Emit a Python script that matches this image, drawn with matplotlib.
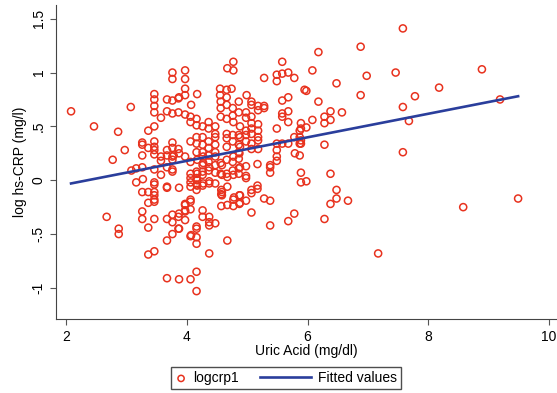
import matplotlib
matplotlib.use("Agg")
import matplotlib.pyplot as plt
from matplotlib.legend_handler import HandlerLine2D, HandlerPathCollection
import numpy as np

plt.rcParams['font.family'] = ['Liberation Sans', 'DejaVu Sans']

# uric acid (mg/dl) and log hs-CRP (mg/l)
uric = [
    2.08, 2.46, 3.07, 2.86, 2.97, 2.77, 3.26, 3.26, 3.36, 3.46, 3.46, 3.46, 3.26, 3.57, 3.36, 3.46,
    3.46, 3.46, 3.46, 3.46, 3.57, 3.67, 3.67, 3.76, 3.76, 3.76, 3.76, 3.16, 3.26, 3.16, 3.46, 3.46,
    3.26, 3.36, 3.46, 3.46, 3.46, 3.46, 3.36, 3.67, 3.67, 3.76, 2.67, 3.26, 3.26, 3.46, 3.67, 3.76,
    2.87, 2.87, 3.36, 3.67, 3.76, 3.36, 3.46, 3.67, 3.87, 4.06, 4.06, 4.16, 4.16, 4.16, 4.26, 4.26,
    4.37, 4.37, 4.47, 4.57, 4.57, 4.67, 4.57, 4.67, 4.78, 4.87, 4.87, 3.86, 3.97, 3.97, 4.06, 4.06,
    4.06, 4.26, 4.26, 4.37, 4.37, 4.37, 4.47, 3.86, 4.16, 4.16, 4.06, 4.16, 4.16, 4.67, 4.37, 3.87,
    4.06, 4.16, 4.16, 3.97, 3.97, 3.97, 4.17, 4.07, 3.86, 3.97, 3.86, 3.97, 4.06, 4.06, 4.16, 4.16,
    4.26, 4.36, 4.36, 4.47, 4.47, 3.46, 3.67, 3.76, 3.76, 3.86, 3.67, 3.78, 3.57, 4.06, 4.16, 4.16,
    4.26, 4.26, 4.36, 4.36, 4.47, 4.47, 4.16, 4.26, 4.36, 4.36, 4.47, 4.47, 4.47, 4.26, 4.26, 4.36,
    4.16, 4.06, 4.06, 4.55, 4.55, 4.66, 4.74, 4.66, 4.56, 4.56, 4.66, 4.76, 4.76, 4.86, 4.86, 4.67,
    4.77, 4.77, 4.56, 4.66, 4.77, 4.66, 4.66, 4.76, 4.76, 4.86, 4.86, 4.66, 4.86, 4.86, 4.56, 4.66,
    4.76, 4.56, 4.66, 4.76, 4.86, 4.86, 3.08, 3.27, 3.87, 3.76, 3.76, 3.87, 3.97, 4.06, 4.17, 4.27,
    4.27, 4.37, 4.47, 4.58, 4.77, 4.87, 4.17, 4.17, 4.17, 4.27, 4.58, 4.67, 4.77, 4.58, 4.58, 4.77,
    4.77, 3.97, 3.97, 3.87, 3.76, 3.87, 3.97, 4.07, 3.46, 3.57, 3.67, 3.76,
    5.58, 5.49, 5.49, 5.58, 5.68, 5.78, 5.28, 4.99, 5.07, 5.07, 5.18, 5.18, 5.28, 5.28, 5.58, 5.68,
    5.58, 5.68, 5.58, 5.68, 5.95, 4.98, 4.98, 5.07, 5.07, 4.88, 4.98, 5.07, 5.18, 5.18, 4.88, 4.98,
    5.07, 5.18, 5.18, 4.98, 5.07, 4.88, 5.07, 5.18, 5.49, 5.49, 5.58, 5.68, 5.78, 5.87, 5.87, 5.87,
    5.79, 5.87, 5.49, 5.49, 4.88, 4.98, 5.17, 5.38, 5.38, 5.38, 5.49, 4.98, 4.98, 5.89, 5.89, 5.17,
    5.17, 5.07, 5.07, 4.88, 4.98, 4.88, 5.28, 5.38, 5.07, 5.38, 5.68, 5.78,
    6.18, 6.88, 6.08, 6.98, 7.46, 5.98, 6.48, 6.18, 6.88, 6.38, 6.57, 6.08, 6.28, 6.28, 6.38, 5.89,
    5.98, 5.89, 6.28, 5.89, 5.89, 5.98, 6.38, 6.48, 6.38, 6.48, 6.67, 6.28, 7.17,
    7.58, 8.89, 8.18, 7.78, 7.58, 9.19, 7.68, 7.58, 8.58, 9.49,
]
logcrp = [
    0.64, 0.50, 0.68, 0.45, 0.28, 0.19, 0.35, 0.33, 0.30, 0.36, 0.28, 0.24, 0.23, 0.22, 0.46, 0.50,
    0.80, 0.75, 0.69, 0.63, 0.58, 0.75, 0.64, 1.00, 0.94, 0.74, 0.62, 0.11, 0.12, -0.02, -0.02, -0.04,
    -0.11, -0.11, -0.11, -0.14, -0.18, -0.20, -0.21, -0.06, -0.07, 0.10, -0.34, -0.29, -0.36, -0.36, -0.36, -0.32,
    -0.45, -0.50, -0.44, -0.56, -0.50, -0.69, -0.66, -0.91, -0.07, -0.02, -0.06, 0.02, -0.04, -0.09, 0.05, -0.05,
    -0.01, -0.03, -0.03, -0.09, -0.13, -0.06, -0.24, -0.23, -0.16, -0.14, -0.22, -0.34, -0.23, -0.29, -0.18, -0.20,
    -0.27, -0.28, -0.34, -0.34, -0.39, -0.42, -0.40, -0.45, -0.43, -0.45, -0.52, -0.53, -0.59, -0.56, -0.68, -0.92,
    -0.92, -0.85, -1.03, 1.02, 0.94, 0.85, 0.80, 0.70, 0.76, 0.79, 0.63, 0.61, 0.59, 0.54, 0.57, 0.51,
    0.50, 0.54, 0.48, 0.50, 0.43, 0.31, 0.28, 0.35, 0.30, 0.29, 0.23, 0.23, 0.18, 0.36, 0.40, 0.34,
    0.40, 0.33, 0.36, 0.30, 0.40, 0.33, 0.26, 0.26, 0.23, 0.17, 0.26, 0.22, 0.14, 0.14, 0.08, 0.09,
    0.08, 0.06, 0.02, 0.85, 0.79, 0.84, 0.85, 0.77, 0.73, 0.67, 0.70, 0.67, 0.60, 0.63, 0.73, 1.04,
    1.02, 1.10, 0.59, 0.57, 0.54, 0.43, 0.39, 0.42, 0.36, 0.42, 0.33, 0.31, 0.26, 0.20, 0.16, 0.19,
    0.17, 0.06, 0.06, 0.09, 0.11, 0.06, 0.09, 0.01, 0.77, 0.22, 0.19, 0.25, 0.22, 0.17, 0.19, 0.22,
    0.16, 0.12, 0.07, 0.14, 0.22, 0.25, 0.06, 0.00, -0.05, -0.03, 0.05, 0.03, 0.05, -0.11, -0.14, -0.18,
    -0.24, -0.22, -0.28, -0.31, -0.39, -0.45, -0.37, -0.51, 0.10, 0.05, 0.12, 0.08,
    1.10, 0.98, 0.92, 0.99, 1.00, 0.95, 0.95, 0.79, 0.73, 0.70, 0.69, 0.65, 0.69, 0.67, 0.74, 0.77,
    0.62, 0.64, 0.59, 0.54, 0.84, 0.63, 0.58, 0.59, 0.53, 0.50, 0.46, 0.48, 0.52, 0.46, 0.40, 0.42,
    0.43, 0.40, 0.37, 0.36, 0.34, 0.31, 0.29, 0.29, 0.48, 0.34, 0.34, 0.34, 0.40, 0.46, 0.40, 0.34,
    0.25, 0.23, 0.28, 0.22, 0.12, 0.13, 0.15, 0.14, 0.12, 0.07, 0.18, 0.04, 0.02, 0.07, -0.02, -0.05,
    -0.08, -0.09, -0.12, -0.14, -0.19, -0.21, -0.17, -0.19, -0.30, -0.42, -0.38, -0.31,
    1.19, 1.24, 1.02, 0.97, 1.00, 0.83, 0.90, 0.73, 0.79, 0.64, 0.63, 0.56, 0.59, 0.53, 0.56, 0.53,
    0.49, 0.48, 0.33, 0.37, 0.34, -0.01, 0.06, -0.09, -0.22, -0.17, -0.19, -0.36, -0.68,
    1.41, 1.03, 0.86, 0.78, 0.68, 0.75, 0.55, 0.26, -0.25, -0.17,
]

# fitted line end points as drawn
fit_x = [2.08, 9.49]
fit_y = [-0.03, 0.78]

xticks = [2, 4, 6, 8, 10]
yticks = [-1, -0.5, 0, 0.5, 1, 1.5]
ytick_labels = ['-1', '-.5', '0', '.5', '1', '1.5']

red = '#e8321e'
blue = '#2a3e9c'

fig = plt.figure(figsize=(5.57, 3.93), dpi=100)
ax = fig.add_axes([0.1005, 0.188, 0.899, 0.80])

sc = ax.scatter(uric, logcrp, s=26, facecolors='none', edgecolors=red, linewidths=1.1,
                label='logcrp1', zorder=2)
ln, = ax.plot(fit_x, fit_y, color=blue, lw=1.9, label='Fitted values', zorder=3)

ax.set_xlim(1.83, 10.13)
ax.set_ylim(-1.29, 1.63)
ax.set_xticks(xticks)
ax.set_yticks(yticks)
ax.set_yticklabels(ytick_labels, rotation=90, va='center')
ax.tick_params(axis='both', labelsize=10, length=4, color='#555555', direction='out')

for side in ['top', 'right']:
    ax.spines[side].set_visible(False)
for side in ['left', 'bottom']:
    ax.spines[side].set_color('#444444')

ax.set_xlabel('Uric Acid (mg/dl)', fontsize=10, labelpad=0)
ax.set_ylabel('log hs-CRP (mg/l)', fontsize=10, labelpad=3)

# short handle for the marker, line handle stretched to the left
fig.legend(handles=[sc, ln], labels=['logcrp1', 'Fitted values'],
           loc='center', bbox_to_anchor=(0.513, 0.038), ncol=2, fontsize=10,
           frameon=True, fancybox=False, edgecolor='#222222', handlelength=0.9,
           columnspacing=4.3, borderpad=0.3, handletextpad=0.45, borderaxespad=0,
           handler_map={ln: HandlerLine2D(xpad=-2.8),
                        sc: HandlerPathCollection(sizes=[20])})

fig.savefig('out.png', dpi=100)
